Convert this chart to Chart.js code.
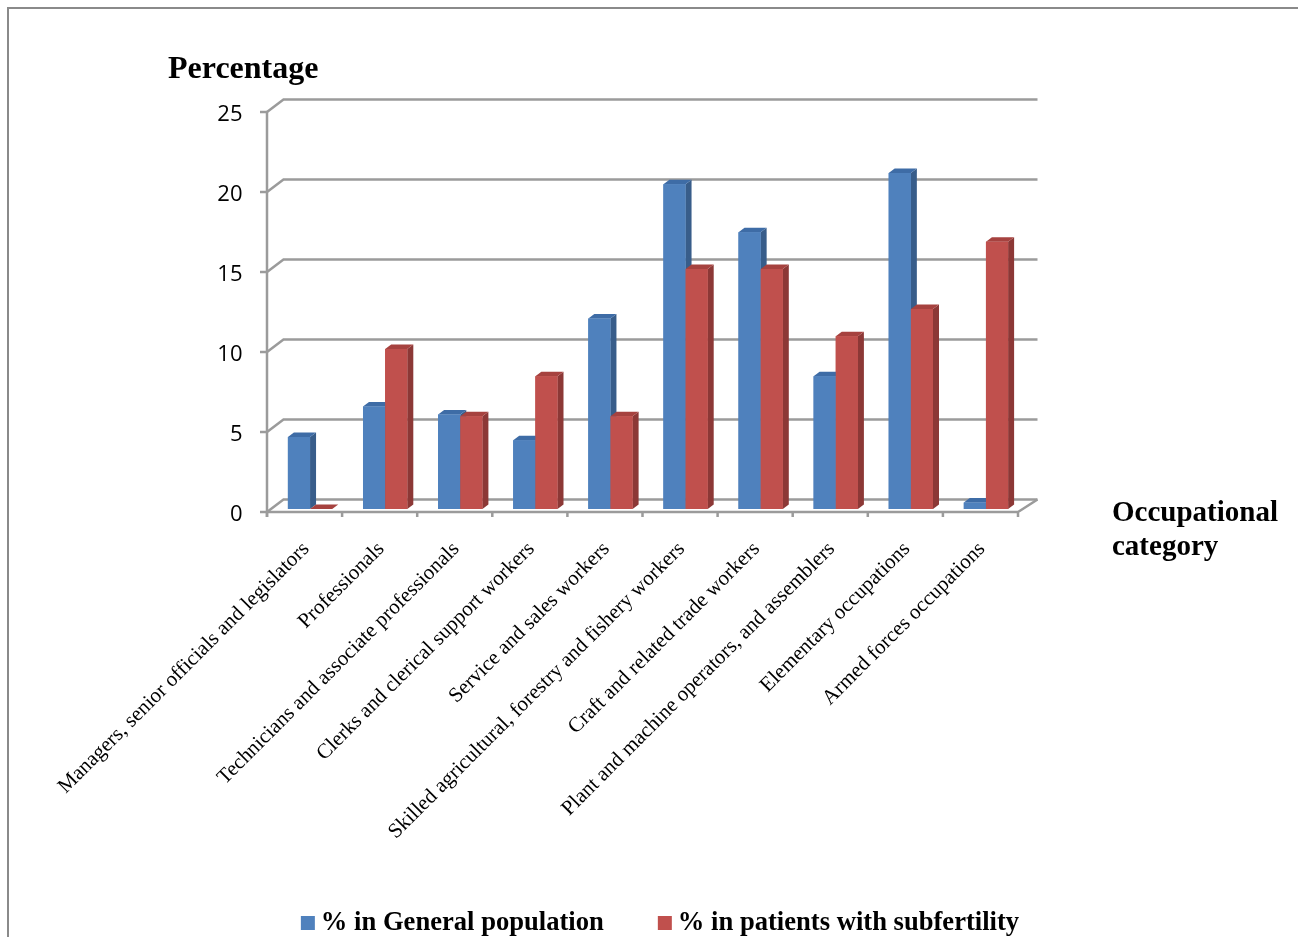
<!DOCTYPE html>
<html>
<head>
<meta charset="utf-8">
<title>Occupational category</title>
<script src="https://cdn.jsdelivr.net/npm/chart.js@4.4.0/dist/chart.umd.min.js"></script>
<style>
  html, body { margin: 0; padding: 0; background: #ffffff; }
  #wrap { width: 1298px; height: 937px; position: relative; }
</style>
</head>
<body>
<div id="wrap"><canvas id="chart" width="1298" height="937"></canvas></div>
<script>
// Occupational categories (x axis)
const categories = [
  'Managers, senior officials and legislators',
  'Professionals',
  'Technicians and associate professionals',
  'Clerks and clerical support workers',
  'Service and sales workers',
  'Skilled agricultural, forestry and fishery workers',
  'Craft and related trade workers',
  'Plant and machine operators, and assemblers',
  'Elementary occupations',
  'Armed forces occupations'
];

// Percentages per category
const generalPopulation = [4.5, 6.4, 5.9, 4.3, 11.9, 20.3, 17.3, 8.3, 21.0, 0.4];
const subfertilityPatients = [0, 10.0, 5.8, 8.3, 5.8, 15.0, 15.0, 10.8, 12.5, 16.7];

// Series names and y-axis ticks
const seriesNames = ['% in General population', '% in patients with subfertility'];
const yTicks = [0, 5, 10, 15, 20, 25];

// Face colours for the 3D columns: front, side, top
const faces = [
  { front: '#4F81BD', side: '#385D8A', top: '#3E6CA6' },
  { front: '#C0504D', side: '#8C3836', top: '#A6423F' }
];

// Perspective offsets relative to the column plane
const FRONT = { dx: -5.5, dy: 3 };
const BACK = { dx: 11, dy: -9.5 };
const DEPTH = { dx: 6, dy: -4.5 };
const GRID_COLOR = '#9b9b9b';

const serif = '"Liberation Serif", "Times New Roman", serif';

const chart3d = {
  id: 'chart3d',
  beforeDraw(chart) {
    const ctx = chart.ctx;
    ctx.save();
    ctx.fillStyle = '#ffffff';
    ctx.fillRect(0, 0, chart.width, chart.height);
    // outer frame (top and left edges)
    ctx.strokeStyle = '#8a8a8a';
    ctx.lineWidth = 2;
    ctx.beginPath();
    ctx.moveTo(8, chart.height);
    ctx.lineTo(8, 8);
    ctx.lineTo(chart.width, 8);
    ctx.stroke();
    ctx.restore();
  },
  beforeDatasetsDraw(chart) {
    const ctx = chart.ctx;
    const { left, right } = chart.chartArea;
    const y = chart.scales.y;
    ctx.save();
    ctx.strokeStyle = GRID_COLOR;
    ctx.lineWidth = 2.5;
    // back wall gridlines with the side wall diagonals
    yTicks.forEach(v => {
      const py = y.getPixelForValue(v);
      ctx.beginPath();
      ctx.moveTo(left + FRONT.dx, py + FRONT.dy);
      ctx.lineTo(left + BACK.dx, py + BACK.dy);
      ctx.lineTo(right + BACK.dx + 3, py + BACK.dy);
      ctx.stroke();
    });
    // front value axis with tick marks
    const fx = left + FRONT.dx;
    const yTop = y.getPixelForValue(yTicks[yTicks.length - 1]) + FRONT.dy;
    const yZero = y.getPixelForValue(0) + FRONT.dy;
    ctx.beginPath();
    ctx.moveTo(fx, yTop);
    ctx.lineTo(fx, yZero + 5);
    yTicks.forEach(v => {
      const py = y.getPixelForValue(v) + FRONT.dy;
      ctx.moveTo(fx - 7, py);
      ctx.lineTo(fx, py);
    });
    ctx.stroke();
    // floor front edge, category ticks and right edge
    ctx.beginPath();
    ctx.moveTo(fx, yZero);
    ctx.lineTo(right + FRONT.dx, yZero);
    ctx.lineTo(right + BACK.dx + 3, y.getPixelForValue(0) + BACK.dy);
    const step = (right - left) / categories.length;
    for (let i = 0; i <= categories.length; i++) {
      const tx = left + FRONT.dx + i * step;
      ctx.moveTo(tx, yZero);
      ctx.lineTo(tx, yZero + 5);
    }
    ctx.stroke();
    ctx.restore();
  },
  afterDatasetsDraw(chart) {
    const ctx = chart.ctx;
    const metas = chart.data.datasets.map((_, d) => chart.getDatasetMeta(d));
    ctx.save();
    for (let i = 0; i < categories.length; i++) {
      metas.forEach((meta, d) => {
        const el = meta.data[i];
        const p = el.getProps(['x', 'y', 'base', 'width'], true);
        const l = p.x - p.width / 2;
        const r = p.x + p.width / 2;
        const c = faces[d];
        // side face
        ctx.fillStyle = c.side;
        ctx.beginPath();
        ctx.moveTo(r, p.y);
        ctx.lineTo(r + DEPTH.dx, p.y + DEPTH.dy);
        ctx.lineTo(r + DEPTH.dx, p.base + DEPTH.dy);
        ctx.lineTo(r, p.base);
        ctx.closePath();
        ctx.fill();
        // top face
        ctx.fillStyle = c.top;
        ctx.beginPath();
        ctx.moveTo(l, p.y);
        ctx.lineTo(r, p.y);
        ctx.lineTo(r + DEPTH.dx, p.y + DEPTH.dy);
        ctx.lineTo(l + DEPTH.dx, p.y + DEPTH.dy);
        ctx.closePath();
        ctx.fill();
        // front face
        ctx.fillStyle = c.front;
        ctx.fillRect(l, p.y, p.width, p.base - p.y);
      });
    }
    ctx.restore();
  },
  afterDraw(chart) {
    const ctx = chart.ctx;
    ctx.save();
    ctx.fillStyle = '#000000';
    ctx.textBaseline = 'middle';
    ctx.textAlign = 'left';
    ctx.font = 'bold 32px ' + serif;
    ctx.fillText('Percentage', 168, 70);
    ctx.font = 'bold 29px ' + serif;
    ctx.fillText('Occupational', 1112, 514);
    ctx.fillText('category', 1112, 548);

    // legend
    ctx.font = 'bold 26.6px ' + serif;
    const box = 14, gapBox = 6, gapItem = 54;
    const items = chart.data.datasets.map((ds, d) => ({
      label: ds.label, color: faces[d].front, w: ctx.measureText(ds.label).width
    }));
    const total = items.reduce((s, it) => s + box + gapBox + it.w, 0) + gapItem * (items.length - 1);
    let cx = 660 - total / 2;
    const cy = 923;
    items.forEach(it => {
      ctx.fillStyle = it.color;
      ctx.fillRect(cx, cy - box / 2, box, box);
      ctx.fillStyle = '#000000';
      ctx.fillText(it.label, cx + box + gapBox, cy);
      cx += box + gapBox + it.w + gapItem;
    });
    ctx.restore();
  }
};

new Chart(document.getElementById('chart'), {
  type: 'bar',
  data: {
    labels: categories,
    datasets: [
      { label: seriesNames[0], data: generalPopulation, backgroundColor: faces[0].front },
      { label: seriesNames[1], data: subfertilityPatients, backgroundColor: faces[1].front }
    ]
  },
  options: {
    responsive: false,
    animation: false,
    devicePixelRatio: 1,
    layout: { padding: { left: 0, right: 1298 - 1023.5, top: 109, bottom: 0 } },
    datasets: { bar: { categoryPercentage: 0.59, barPercentage: 1.0 } },
    plugins: { legend: { display: false }, tooltip: { enabled: false } },
    scales: {
      x: {
        grid: { display: false, drawTicks: false },
        border: { display: false },
        ticks: {
          autoSkip: false, minRotation: 45, maxRotation: 45, padding: 28, labelOffset: -4,
          color: '#000000', font: { family: serif, size: 21 }
        },
        afterFit(s) { s.height = 428; }
      },
      y: {
        min: 0, max: 25,
        grid: { display: false, drawTicks: false },
        border: { display: false },
        ticks: {
          padding: 30, labelOffset: 6, color: '#000000',
          font: { family: '"Open Sans", sans-serif', size: 22 }
        },
        afterBuildTicks(s) { s.ticks = yTicks.map(v => ({ value: v })); },
        afterFit(s) { s.width = 272.5; }
      }
    }
  },
  plugins: [chart3d]
});
</script>
</body>
</html>
